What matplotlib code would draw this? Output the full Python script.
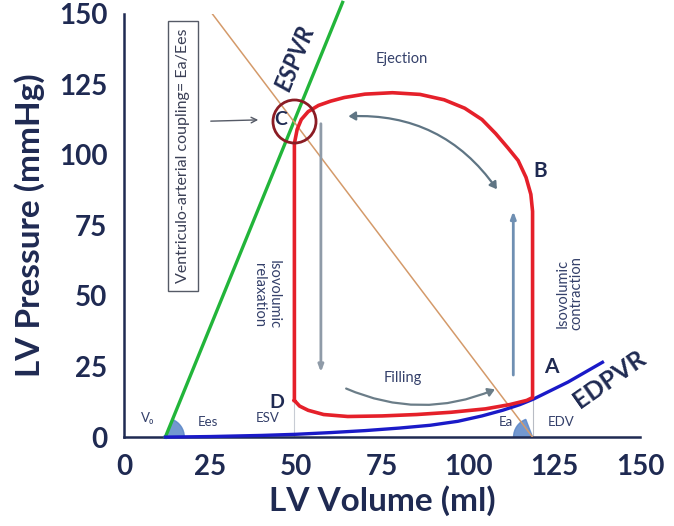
import matplotlib
matplotlib.use("Agg")
import matplotlib.pyplot as plt
import matplotlib.transforms as mtransforms
from matplotlib.patches import Wedge, FancyArrowPatch

plt.rcParams['font.family'] = ['Lato', 'DejaVu Sans']

navy = '#1f2a52'

# ---- data ----
# ESPVR (end-systolic pressure-volume relation)
espvr_v = [12, 63.5]
espvr_p = [0, 154]

# arterial elastance line (Ea)
ea_v = [25, 118.7]
ea_p = [151, 0]

# EDPVR (end-diastolic pressure-volume relation)
edpvr_v = [12, 25, 40, 50, 60, 70, 80, 89, 97, 104, 110, 115, 119, 124, 129, 134, 139]
edpvr_p = [0, 0.2, 0.6, 1.0, 1.6, 2.3, 3.2, 4.2, 5.6, 7.5, 9.5, 11.5, 13.5, 16.5, 19.5, 23, 26.5]

# pressure-volume loop (D -> C -> B -> A -> D)
loop_v = [49.5, 49.5, 50.3, 51.5, 53.5, 56.5, 60, 64, 70, 78, 86, 93, 99, 104, 108,
          111.5, 114.5, 116.8, 118.2, 118.7, 118.7, 117, 112, 105, 95, 85, 75, 65,
          58, 53.5, 51, 49.5]
loop_p = [13, 104, 109, 112.5, 115.3, 117.5, 119, 120.3, 121.5, 122, 121.4, 119.5,
          116.5, 112.5, 107.5, 102.5, 98, 92, 86, 80, 14, 13, 11.5, 10, 8.8, 8, 7.5,
          7.3, 8, 9.5, 11, 13]

esv, edv = 49.5, 118.7
point_c = (49.3, 112)

xticks = [0, 25, 50, 75, 100, 125, 150]
yticks = [0, 25, 50, 75, 100, 125, 150]

fig = plt.figure(figsize=(6.74, 5.26), dpi=100)
ax = fig.add_axes([0.184, 0.169, 0.766, 0.805])
ax.set_xlim(0, 150)
ax.set_ylim(0, 150)

# axes styling
for s in ['top', 'right']:
    ax.spines[s].set_visible(False)
for s in ['left', 'bottom']:
    ax.spines[s].set_color(navy)
    ax.spines[s].set_linewidth(1.8)
ax.set_xticks(xticks)
ax.set_yticks(yticks)
ax.tick_params(length=0, labelsize=20, labelcolor=navy, pad=12)
for lab in ax.get_xticklabels() + ax.get_yticklabels():
    lab.set_fontweight('bold')
ax.set_xlabel('LV Volume (ml)', fontsize=24, fontweight='bold', color=navy, labelpad=4)
ax.set_ylabel('LV Pressure (mmHg)', fontsize=24, fontweight='bold', color=navy, labelpad=10)

# thin guide lines at ESV / EDV
ax.plot([esv, esv], [0, 13], color='#c8ccd4', lw=0.8, zorder=1)
ax.plot([edv, edv], [0, 14], color='#b8bcc4', lw=0.8, zorder=1)

# lines
ax.plot(espvr_v, espvr_p, color='#22b53a', lw=2.4, zorder=3, clip_on=False)
ax.plot(ea_v, ea_p, color='#d49a6a', lw=1.1, zorder=3)
ax.plot(edpvr_v, edpvr_p, color='#1a1ac8', lw=2.4, zorder=4, clip_on=False)
ax.plot(loop_v, loop_p, color='#e5202a', lw=2.6, zorder=5, solid_joinstyle='round')

# angle wedges for Ees and Ea
tr1 = fig.dpi_scale_trans + mtransforms.ScaledTranslation(12, 0, ax.transData)
ax.add_patch(Wedge((0, 0), 0.19, 0, 68, transform=tr1, color='#5a86c8', alpha=0.85, zorder=2))
tr2 = fig.dpi_scale_trans + mtransforms.ScaledTranslation(edv, 0, ax.transData)
ax.add_patch(Wedge((0, 0), 0.19, 111, 180, transform=tr2, color='#5a86c8', alpha=0.85, zorder=2))

# circle around C
ax.plot([point_c[0]], [point_c[1]], marker='o', ms=31, mfc='none', mec='#8b1c24', mew=2, zorder=6)

# inner arrows
ax.annotate('', xy=(57.2, 22), xytext=(57.2, 112),
            arrowprops=dict(arrowstyle='-|>,head_width=0.15,head_length=0.4', color='#8f9ba8', lw=2))
ax.annotate('', xy=(113.1, 81), xytext=(113.1, 21),
            arrowprops=dict(arrowstyle='-|>,head_width=0.15,head_length=0.4', color='#6f8fb2', lw=2))
ax.add_patch(FancyArrowPatch((64.4, 113.6), (108.8, 87), connectionstyle='arc3,rad=-0.28',
                             arrowstyle='<|-|>,head_width=2.5,head_length=4', color='#5f7584',
                             lw=1.6, zorder=5))
ax.add_patch(FancyArrowPatch((63.8, 17.6), (108.5, 17.3), connectionstyle='arc3,rad=0.22',
                             arrowstyle='-|>,head_width=2.5,head_length=4', color='#6b7d88',
                             lw=1.6, zorder=5))

# pointer arrow from the box to C
ax.annotate('', xy=(39.8, 112.4), xytext=(24.4, 111.9),
            arrowprops=dict(arrowstyle='->', color='#555a66', lw=1))

# labels
ax.text(17.2, 99.5, 'Ventriculo-arterial coupling= Ea/Ees', rotation=90, fontsize=11.5,
        color='#3a3f55', ha='center', va='center',
        bbox=dict(boxstyle='square,pad=0.5', fc='white', ec='#555a66', lw=1))
ax.text(49.5, 134, 'ESPVR', rotation=68, fontsize=17, fontweight='bold', fontstyle='italic',
        color=navy, ha='center', va='center')
ax.text(141, 20.5, 'EDPVR', rotation=35, fontsize=18, fontweight='bold',
        color=navy, ha='center', va='center')
ax.text(80.7, 134, 'Ejection', fontsize=10.5, color='#34406a', ha='center', va='center')
ax.text(81, 21, 'Filling', fontsize=10.5, color='#34406a', ha='center', va='center')
ax.text(41.3, 50.5, 'Isovolumic\nrelaxation', rotation=270, fontsize=10.5, color='#34406a',
        ha='center', va='center', linespacing=1.0)
ax.text(129.5, 51, 'Isovolumic\ncontraction', rotation=90, fontsize=10.5, color='#34406a',
        ha='center', va='center', linespacing=1.0)
ax.text(124.3, 24.7, 'A', fontsize=15, fontweight='bold', color=navy, ha='center', va='center')
ax.text(121, 94.2, 'B', fontsize=15, fontweight='bold', color=navy, ha='center', va='center')
ax.text(45.6, 112.6, 'C', fontsize=14, fontweight='bold', color=navy, ha='center', va='center')
ax.text(44.4, 12.4, 'D', fontsize=14, fontweight='bold', color=navy, ha='center', va='center')
ax.text(7, 6.7, 'V₀', fontsize=9.5, color='#34406a', ha='center', va='center')
ax.text(24.4, 5.3, 'Ees', fontsize=9.5, color='#34406a', ha='center', va='center')
ax.text(41.8, 6.7, 'ESV', fontsize=9.5, color='#34406a', ha='center', va='center')
ax.text(111, 5.3, 'Ea', fontsize=9.5, color='#34406a', ha='center', va='center')
ax.text(127, 5.3, 'EDV', fontsize=9.5, color='#34406a', ha='center', va='center')

fig.savefig('out.png', dpi=100)
